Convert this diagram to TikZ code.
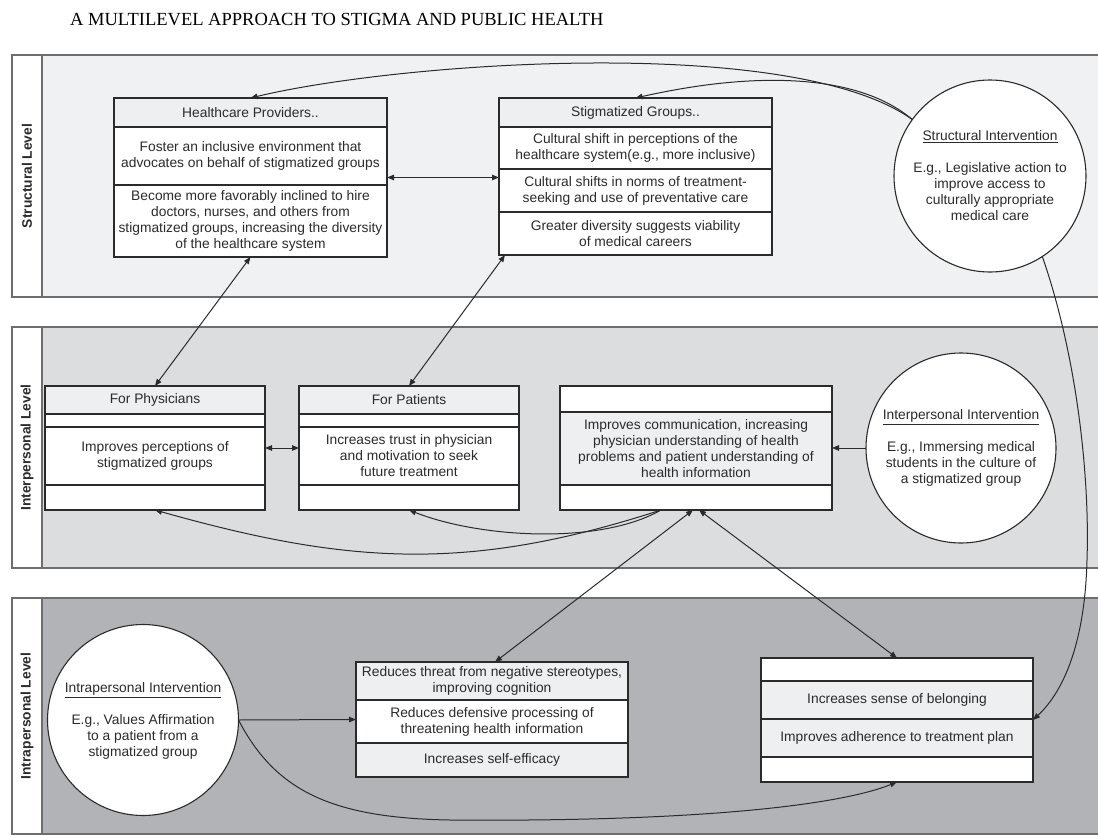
\documentclass[tikz,border=0pt]{standalone}
\usepackage{fontspec}
\setmainfont{Liberation Sans}
\newfontfamily\titlefont{Liberation Serif}
\usetikzlibrary{arrows.meta}
\definecolor{bandA}{HTML}{F0F1F3}
\definecolor{bandB}{HTML}{DCDDDF}
\definecolor{bandC}{HTML}{B2B3B6}
\definecolor{cellgray}{HTML}{EEEFF1}
\definecolor{ink}{HTML}{2B2B2B}
\definecolor{frame}{HTML}{6E6E6E}
\begin{document}
\begin{tikzpicture}[x=1pt,y=-1pt,
  band/.style={draw=frame, line width=1.6pt},
  cell/.style={draw=ink, line width=1.1pt},
  frm/.style={draw=ink, line width=1.1pt, inner sep=0pt, outer sep=0pt, rectangle},
  txt/.style={text=ink, align=center, font=\fontsize{13.8}{16}\selectfont, inner sep=0pt},
  lvl/.style={text=ink, rotate=90, font=\bfseries\fontsize{13.8}{16}\selectfont, inner sep=0pt},
  circ/.style={circle, draw=ink, fill=white, line width=1.1pt, minimum size=192pt, inner sep=0pt, outer sep=0pt},
  tip/.style={Triangle[length=7pt,width=5.5pt]},
  conn/.style={draw=ink, line width=1pt, -{Triangle[length=7pt,width=5.5pt]}},
  biconn/.style={draw=ink, line width=1pt, {Triangle[length=7pt,width=5.5pt]}-{Triangle[length=7pt,width=5.5pt]}}
]
\useasboundingbox (0,0) rectangle (1098,835);

% title
\node[anchor=base west, font=\titlefont\fontsize{18.5}{22}\selectfont, text=black, inner sep=0pt] (title) at (70,25) {A MULTILEVEL APPROACH TO STIGMA AND PUBLIC HEALTH};

% bands
\filldraw[band, fill=bandA] (12,55) rectangle (1115,297);
\filldraw[band, fill=white] (12,55) rectangle (42,297);
\node[lvl] (lv1) at (27,176) {Structural Level};

\filldraw[band, fill=bandB] (12,327) rectangle (1115,568);
\filldraw[band, fill=white] (12,327) rectangle (42,568);
\node[lvl] (lv2) at (27,447.5) {Interpersonal Level};

\filldraw[band, fill=bandC] (12,598) rectangle (1115,834);
\filldraw[band, fill=white] (12,598) rectangle (42,834);
\node[lvl] (lv3) at (27,716) {Intrapersonal Level};

% Healthcare Providers
\filldraw[cell, fill=cellgray] (114,98) rectangle (387,127);
\filldraw[cell, fill=white] (114,127) rectangle (387,185);
\filldraw[cell, fill=white] (114,185) rectangle (387,257);
\node[frm, minimum width=273pt, minimum height=159pt] (hp) at (250.5,177.5) {};
\node[txt] (hp0) at (250.5,112.5) {Healthcare Providers..};
\node[txt] (hp1) at (250.5,156) {Foster an inclusive environment that\\advocates on behalf of stigmatized groups};
\node[txt] (hp2) at (250.5,221) {Become more favorably inclined to hire\\doctors, nurses, and others from\\stigmatized groups, increasing the diversity\\of the healthcare system};

% Stigmatized Groups
\filldraw[cell, fill=cellgray] (499,98) rectangle (772,127);
\filldraw[cell, fill=white] (499,127) rectangle (772,169);
\filldraw[cell, fill=white] (499,169) rectangle (772,212);
\filldraw[cell, fill=white] (499,212) rectangle (772,255);
\node[frm, minimum width=273pt, minimum height=157pt] (sg) at (635.5,176.5) {};
\node[txt] (sg0) at (635.5,112.5) {Stigmatized Groups..};
\node[txt] (sg1) at (635.5,148) {Cultural shift in perceptions of the\\healthcare system(e.g., more inclusive)};
\node[txt] (sg2) at (635.5,190.5) {Cultural shifts in norms of treatment-\\seeking and use of preventative care};
\node[txt] (sg3) at (635.5,233.5) {Greater diversity suggests viability\\of medical careers};

% Structural intervention
\node[circ] (sc) at (990,176) {};
\node[txt] (sct) at (990,176) {\underline{Structural Intervention}\\[16pt]E.g., Legislative action to\\improve access to\\culturally appropriate\\medical care};

% For Physicians
\filldraw[cell, fill=cellgray] (45,386) rectangle (265,414);
\filldraw[cell, fill=white] (45,414) rectangle (265,427);
\filldraw[cell, fill=white] (45,427) rectangle (265,485);
\filldraw[cell, fill=white] (45,485) rectangle (265,510);
\node[frm, minimum width=220pt, minimum height=124pt] (fp) at (155,448) {};
\node[txt] (fp0) at (155,400) {For Physicians};
\node[txt] (fp1) at (155,456) {Improves perceptions of\\stigmatized groups};

% For Patients
\filldraw[cell, fill=cellgray] (299,386) rectangle (519,414);
\filldraw[cell, fill=white] (299,414) rectangle (519,427);
\filldraw[cell, fill=white] (299,427) rectangle (519,485);
\filldraw[cell, fill=white] (299,485) rectangle (519,510);
\node[frm, minimum width=220pt, minimum height=124pt] (fpat) at (409,448) {};
\node[txt] (fpat0) at (409,400) {For Patients};
\node[txt] (fpat1) at (409,456) {Increases trust in physician\\and motivation to seek\\future treatment};

% Communication
\filldraw[cell, fill=white] (560,386) rectangle (832,412);
\filldraw[cell, fill=cellgray] (560,412) rectangle (832,485);
\filldraw[cell, fill=white] (560,485) rectangle (832,510);
\node[frm, minimum width=272pt, minimum height=124pt] (comm) at (696,448) {};
\node[txt] (comm1) at (696,449) {Improves communication, increasing\\physician understanding of health\\problems and patient understanding of\\health information};

% Interpersonal intervention
\node[circ, minimum size=190pt] (ic) at (961,448) {};
\node[txt] (ict) at (961,448) {\underline{Interpersonal Intervention}\\[16pt]E.g., Immersing medical\\students in the culture of\\a stigmatized group};

% Intrapersonal intervention
\node[circ, minimum size=191pt] (ac) at (143,720) {};
\node[txt] (act) at (143,721) {\underline{Intrapersonal Intervention}\\[16pt]E.g., Values Affirmation\\to a patient from a\\stigmatized group};

% Reduces box
\filldraw[cell, fill=cellgray] (356,662) rectangle (628,700);
\filldraw[cell, fill=white] (356,700) rectangle (628,743);
\filldraw[cell, fill=cellgray] (356,743) rectangle (628,777);
\node[frm, minimum width=272pt, minimum height=115pt] (red) at (492,719.5) {};
\node[txt] (red1) at (492,681) {Reduces threat from negative stereotypes,\\improving cognition};
\node[txt] (red2) at (492,721.5) {Reduces defensive processing of\\threatening health information};
\node[txt] (red3) at (492,760) {Increases self-efficacy};

% Adherence box
\filldraw[cell, fill=white] (761,658) rectangle (1033,681);
\filldraw[cell, fill=cellgray] (761,681) rectangle (1033,719);
\filldraw[cell, fill=cellgray] (761,719) rectangle (1033,757);
\filldraw[cell, fill=white] (761,757) rectangle (1033,782);
\node[frm, minimum width=272pt, minimum height=124pt] (adh) at (897,720) {};
\node[txt] (adh1) at (897,700) {Increases sense of belonging};
\node[txt] (adh2) at (897,738) {Improves adherence to treatment plan};

% waypoints
\coordinate (w1) at (450,820);
\coordinate (w2) at (1087,560);

% connectors
\draw[conn] (sc.144) .. controls (793,34) and (400,62) .. (hp.north);
\draw[conn] (sc.144) .. controls (860,75) and (760,70) .. (sg.north);
\draw[biconn] (hp.east) -- (hp.east -| sg.west);
\draw[biconn] (hp.south) -- (fp.north);
\draw[biconn] ([xshift=6pt]sg.south west) -- (fpat.north);
\draw[biconn] (fp.east) -- (fpat.west);
\draw[conn] (ic.west) -- (comm.east);
\draw[conn] ([xshift=-35pt]comm.south) .. controls (470,572) and (350,565) .. (fp.south);
\draw[conn] ([xshift=-35pt]comm.south) .. controls (600,545) and (480,538) .. (fpat.south);
\draw[biconn] ([xshift=-3pt]comm.south) -- ([xshift=3pt]red.north);
\draw[biconn] ([xshift=3pt]comm.south) -- (adh.north);
\draw[conn] (ac.east) -- (red.west);
\draw[conn] (ac.east) .. controls (275,790) and (330,818) .. (w1) .. controls (700,822) and (840,805) .. (adh.south);
\draw[conn] (sc.-57) .. controls (1075,350) and (1090,470) .. (w2) .. controls (1085,640) and (1065,690) .. (adh.east);
\end{tikzpicture}
\end{document}
